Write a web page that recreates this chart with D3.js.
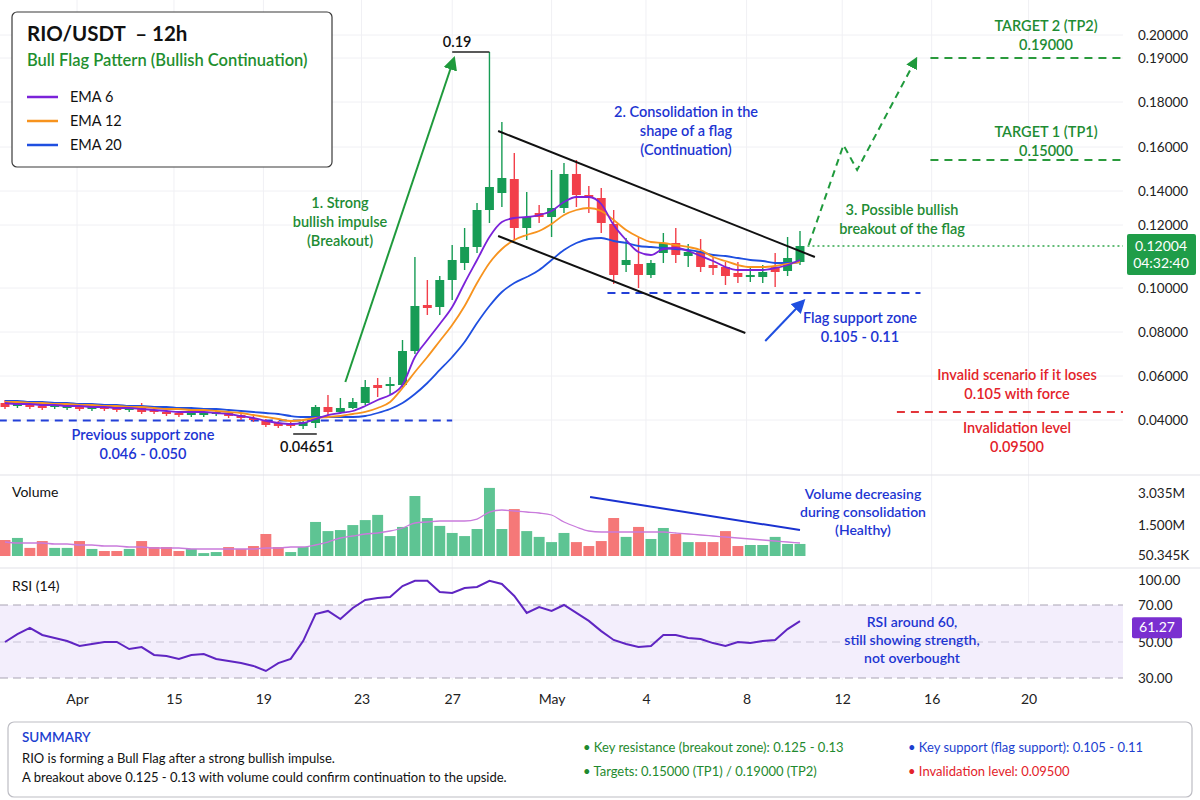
<!DOCTYPE html>
<html>
<head>
<meta charset="utf-8">
<script src="https://cdn.jsdelivr.net/npm/d3@7"></script>
<style>
  html, body { margin: 0; padding: 0; background: #fff; }
  svg { display: block; font-family: Lato, "Open Sans", sans-serif; }
</style>
</head>
<body>
<div id="chart"></div>
<script>
// ---- data (one entry per 12h candle) ----
const opens = [0.04773,0.04636,0.04682,0.04636,0.04591,0.04545,0.04591,0.045,0.04591,0.04545,
  0.04455,0.04591,0.04455,0.04364,0.04318,0.04227,0.04227,0.04273,0.04318,0.04227,
  0.04091,0.03955,0.03864,0.03864,0.03727,0.03864,0.04591,0.04364,0.04545,0.04773,
  0.05591,0.05545,0.05591,0.07136,0.09227,0.09136,0.10254,0.10794,0.11302,0.12882,
  0.13882,0.14545,0.11905,0.12706,0.12471,0.13,0.14773,0.13765,0.13588,0.12059,
  0.1073,0.10762,0.10413,0.11111,0.11429,0.11016,0.11143,0.1073,0.10667,0.10476,
  0.10349,0.10349,0.10667,0.1054,0.10825]
const closes = [0.04591,0.04727,0.04591,0.04545,0.04682,0.04636,0.045,0.04636,0.045,0.04455,
  0.04545,0.04364,0.04364,0.04273,0.04227,0.04318,0.04364,0.04364,0.04182,0.04091,
  0.04,0.03773,0.03727,0.03727,0.03909,0.04591,0.04364,0.04545,0.04818,0.055,
  0.05455,0.05636,0.07136,0.09182,0.09091,0.10254,0.10889,0.11302,0.12882,0.14182,
  0.14591,0.11905,0.12471,0.12471,0.13,0.14773,0.13765,0.13588,0.12118,0.10413,
  0.10889,0.10413,0.10794,0.11429,0.11048,0.11143,0.10667,0.10635,0.10381,0.10349,
  0.10413,0.10508,0.10508,0.10952,0.11333]
const highs = [0.04909,0.04818,0.04773,0.04727,0.04773,0.04727,0.04682,0.04727,0.04682,0.04636,
  0.04636,0.04773,0.04545,0.04455,0.04409,0.04409,0.04455,0.04455,0.04409,0.04318,
  0.04182,0.04045,0.03955,0.03955,0.04,0.04682,0.05136,0.05,0.05,0.05818,
  0.05909,0.05955,0.07636,0.10984,0.10254,0.10381,0.11365,0.11905,0.13294,0.19261,
  0.17111,0.15727,0.13941,0.13176,0.14955,0.15273,0.15409,0.14227,0.14136,0.12882,
  0.11587,0.11619,0.10889,0.11746,0.11905,0.11397,0.11556,0.10984,0.10825,0.10825,
  0.10635,0.1073,0.11111,0.11619,0.1181]
const lows = [0.045,0.04545,0.045,0.04455,0.045,0.04455,0.04409,0.04409,0.04409,0.04364,
  0.04364,0.04273,0.04273,0.04182,0.04136,0.04136,0.04136,0.04182,0.04091,0.04,
  0.03909,0.03682,0.03636,0.03636,0.03591,0.03636,0.04227,0.04318,0.045,0.04682,
  0.05045,0.05136,0.055,0.07,0.08773,0.08773,0.09455,0.10571,0.11111,0.12118,
  0.13059,0.11524,0.11524,0.12118,0.11619,0.12706,0.13059,0.12706,0.11746,0.10127,
  0.10508,0.1,0.10317,0.10794,0.10794,0.10667,0.10508,0.10413,0.10095,0.10159,
  0.1019,0.10159,0.10032,0.10381,0.1073]

const ema6 = [0.04773,0.04727,0.04727,0.04682,0.04682,0.04636,0.04636,0.04591,0.04591,0.04545,
  0.04545,0.045,0.04455,0.04409,0.04364,0.04364,0.04364,0.04318,0.04273,0.04182,
  0.04091,0.03955,0.03864,0.03818,0.03864,0.04045,0.04227,0.04318,0.04409,0.04636,
  0.04909,0.05136,0.05591,0.06864,0.07636,0.08364,0.09136,0.10159,0.10889,0.11619,
  0.12176,0.12412,0.12471,0.12588,0.12824,0.13353,0.13647,0.13647,0.13235,0.12,
  0.11524,0.11143,0.11048,0.11238,0.1127,0.11175,0.11016,0.10857,0.10667,0.10571,
  0.10571,0.10571,0.10635,0.1073,0.10889]
const ema12 = [0.04818,0.04818,0.04773,0.04773,0.04727,0.04727,0.04682,0.04682,0.04636,0.04636,
  0.04591,0.04591,0.04545,0.045,0.045,0.04455,0.04455,0.04409,0.04364,0.04318,
  0.04227,0.04136,0.04045,0.03955,0.04,0.04091,0.04136,0.04182,0.04273,0.04364,
  0.04545,0.04818,0.05455,0.06182,0.06864,0.07591,0.08318,0.09182,0.10159,0.10794,
  0.11238,0.11524,0.11683,0.1181,0.12059,0.12588,0.12882,0.13,0.12824,0.12294,
  0.11841,0.11619,0.1146,0.11429,0.11365,0.11302,0.11206,0.10984,0.10857,0.1073,
  0.10667,0.10667,0.10698,0.10762,0.10825]
const ema20 = [0.04864,0.04864,0.04818,0.04818,0.04773,0.04773,0.04727,0.04727,0.04682,0.04682,
  0.04636,0.04636,0.04591,0.04591,0.04545,0.04545,0.045,0.045,0.04455,0.04409,
  0.04364,0.04318,0.04273,0.04182,0.04136,0.04136,0.04136,0.04136,0.04136,0.04182,
  0.04318,0.045,0.04773,0.05182,0.05682,0.06273,0.06864,0.07545,0.08409,0.09182,
  0.09818,0.10159,0.10349,0.10571,0.10889,0.11206,0.11429,0.11556,0.11587,0.11492,
  0.11429,0.11333,0.11302,0.1127,0.11238,0.11206,0.11143,0.11048,0.11016,0.10952,
  0.10889,0.10857,0.10794,0.10794,0.10825]

// volume in millions
const volumes = [0.77,0.87,0.39,0.72,0.39,0.39,0.72,0.34,0.24,0.24,
  0.34,0.72,0.43,0.43,0.24,0.34,0.14,0.19,0.43,0.34,
  0.48,1.06,0.43,0.19,0.43,1.64,1.2,1.25,1.49,1.73,
  1.98,0.96,1.4,2.89,1.83,1.45,1.11,0.96,1.3,3.28,
  1.3,2.26,1.2,0.92,0.67,1.11,0.67,0.48,0.72,1.83,
  0.92,1.4,0.82,1.35,1.06,0.67,0.67,0.67,1.2,0.48,
  0.53,0.53,0.92,0.58,0.58]
const volUp = [0,1,0,0,1,1,0,1,0,0, 1,0,0,0,0,1,1,1,0,0, 0,0,0,1,1,1,1,1,1,1,
  1,1,1,1,1,1,1,1,1,1, 1,0,1,1,1,1,0,0,0,0, 1,0,1,1,0,1,0,0,0,0, 1,1,1,1,1]
const volMA = [0.674,0.626,0.626,0.626,0.578,0.578,0.53,0.53,0.482,0.482,
  0.434,0.434,0.385,0.385,0.385,0.337,0.337,0.337,0.337,0.337,
  0.337,0.385,0.385,0.434,0.434,0.53,0.674,0.867,0.963,1.06,
  1.108,1.204,1.349,1.59,1.638,1.686,1.686,1.686,1.782,2.119,
  2.216,2.168,2.119,2.071,1.975,1.638,1.397,1.204,1.156,1.156,
  1.156,1.156,1.156,1.156,1.108,1.06,1.012,0.963,0.915,0.867,
  0.819,0.771,0.723,0.674,0.626]

const rsi = [50,54.3,57.6,53.8,52.2,50.5,47.8,48.9,50,50,
  46.1,47.2,42.8,42.2,40.6,42.8,43.3,40.6,39.4,38.3,
  36.7,33.9,38.3,40.6,50.5,65.1,66.8,62.4,68.4,76,
  78.4,79.6,92.8,99,99,85.6,84.4,90.4,91.6,99,
  95.2,80.8,65.7,68.9,66.8,70,65.7,61.4,55.9,51.1,
  48.9,47.2,47.8,53.8,53.8,52.2,51.6,49.4,47.8,50,
  49.4,50.5,51.1,57,61.27]

// axis ticks
const xTickPos = [5.8, 13.6, 20.8, 28.7, 36.0, 44.0, 51.6, 59.7, 67.4, 74.6, 82.4]
const xTickLabels = ["Apr", "15", "19", "23", "27", "May", "4", "8", "12", "16", "20"]
const priceTicks = [0.04, 0.06, 0.08, 0.10, 0.12, 0.14, 0.16, 0.18, 0.19, 0.20]
const volTicks = [0.050345, 1.5, 3.035]
const rsiTicks = [30, 50, 70, 100]

// annotation geometry, in (candle index, price) units
const flagUpper = [[39.7, 0.16711], [65.2, 0.10984]]
const flagLower = [[39.7, 0.11651], [59.6, 0.07955]]
const impulseArrow = [[27.4, 0.05727], [36.1, 0.18955]]
const breakoutPath = [[64.7, 0.11365], [67.5, 0.16089], [68.6, 0.14955], [73.3, 0.18955]]
const supportArrow = [[61.2, 0.07591], [64.2, 0.09364]]
const prevSupport = { from: -0.5, to: 36.0, value: 0.03977 }
const flagSupport = { from: 48.5, to: 73.7, value: 0.09773 }
const tp1 = { from: 74.5, to: 90, value: 0.15409 }
const tp2 = { from: 74.5, to: 90, value: 0.19 }
const invalid = { from: 71.8, to: 90, value: 0.04364 }
const lowMark = { from: 23.2, to: 25.1, value: 0.03364 }
const highMark = { from: 36.0, to: 39, value: 0.19261 }
const volTrend = [[47.1, 2.84], [64.0, 1.25]]

// ---- chart ----
const W = 1200, H = 800
const upC = "#179c55", downC = "#f23f4a"
const volUpC = "#5ec493", volDownC = "#f57878"
const green = "#1e8c34", blue = "#1d35d2", red = "#e3232a"

const x = d3.scaleLinear().domain([0, 64]).range([5, 800])
const xEnd = x(90)
// the picture's price axis is not evenly spaced, so the scale follows its tick marks
const y = d3.scaleLinear()
  .domain(priceTicks)
  .range([420, 376, 332, 288, 225, 191, 147, 102, 58, 35])
const yVol = d3.scaleLinear().domain([0, 3.035]).range([556, 493])
const yRsi = d3.scaleLinear().domain(rsiTicks).range([678, 642, 605, 580])

const svg = d3.select("#chart").append("svg")
  .attr("width", W).attr("height", H)
  .attr("viewBox", [0, 0, W, H])

svg.append("rect").attr("width", W).attr("height", H).attr("fill", "#fff")

const defs = svg.append("defs")
function marker(id, color, size) {
  defs.append("marker")
    .attr("id", id)
    .attr("viewBox", "0 0 10 10")
    .attr("refX", 7).attr("refY", 5)
    .attr("markerWidth", size).attr("markerHeight", size)
    .attr("orient", "auto")
    .append("path").attr("d", "M0,0 L10,5 L0,10 z").attr("fill", color)
}
marker("arrGreen", "#1f9a3c", 7)
marker("arrGreenDash", "#1f9a3c", 6)
marker("arrBlue", "#1f4fe0", 7)

// grid
const grid = svg.append("g").attr("stroke", "#f0f0f4").attr("stroke-width", 1)
grid.selectAll("line.v").data(xTickPos).join("line")
  .attr("x1", d => x(d)).attr("x2", d => x(d))
  .attr("y1", 0).attr("y2", 680)
grid.selectAll("line.h").data(priceTicks).join("line")
  .attr("x1", 0).attr("x2", xEnd)
  .attr("y1", d => y(d)).attr("y2", d => y(d))

// pane separators
svg.append("g").attr("stroke", "#e2e2e8").attr("stroke-width", 1.2)
  .selectAll("line").data([475, 568]).join("line")
  .attr("x1", 0).attr("x2", W).attr("y1", d => d).attr("y2", d => d)

// ---- main pane ----
const candles = d3.range(opens.length).map(i => ({ i, o: opens[i], h: highs[i], l: lows[i], c: closes[i] }))
const step = x(1) - x(0)
const bodyW = step * 0.72

function hline(g, lvl, color, dash, width) {
  g.append("line")
    .attr("x1", x(lvl.from)).attr("x2", x(lvl.to))
    .attr("y1", y(lvl.value)).attr("y2", y(lvl.value))
    .attr("stroke", color).attr("stroke-width", width || 2)
    .attr("stroke-dasharray", dash)
}

const ann = svg.append("g")
hline(ann, prevSupport, "#2340d8", "8,6")
hline(ann, flagSupport, "#2340d8", "8,6")
hline(ann, tp1, "#2a9a3c", "8,6")
hline(ann, tp2, "#2a9a3c", "8,6")
hline(ann, invalid, "#e3353a", "8,6")

const lastPrice = closes[closes.length - 1]
ann.append("line")
  .attr("x1", x(64.6)).attr("x2", xEnd)
  .attr("y1", y(lastPrice)).attr("y2", y(lastPrice))
  .attr("stroke", "#2fa64a").attr("stroke-width", 1.5)
  .attr("stroke-dasharray", "2,3")

// candles
const cg = svg.append("g")
cg.selectAll("line").data(candles).join("line")
  .attr("x1", d => x(d.i)).attr("x2", d => x(d.i))
  .attr("y1", d => y(d.h)).attr("y2", d => y(d.l))
  .attr("stroke", d => d.c >= d.o ? upC : downC)
  .attr("stroke-width", 1.4)
cg.selectAll("rect").data(candles).join("rect")
  .attr("x", d => x(d.i) - bodyW / 2)
  .attr("width", bodyW)
  .attr("y", d => Math.min(y(d.o), y(d.c)))
  .attr("height", d => Math.max(1.6, Math.abs(y(d.o) - y(d.c))))
  .attr("fill", d => d.c >= d.o ? upC : downC)

// EMAs
const emaLine = d3.line().x((d, i) => x(i)).y(d => y(d)).curve(d3.curveMonotoneX)
const emas = [
  { values: ema20, color: "#1f4fe0", name: "EMA 20" },
  { values: ema12, color: "#f7931e", name: "EMA 12" },
  { values: ema6, color: "#7b22d9", name: "EMA 6" }
]
svg.append("g").attr("fill", "none").attr("stroke-width", 1.8)
  .selectAll("path").data(emas).join("path")
  .attr("stroke", d => d.color)
  .attr("d", d => emaLine(d.values))

// flag channel
const seg = d3.line().x(d => x(d[0])).y(d => y(d[1]))
svg.append("g").attr("stroke", "#111").attr("stroke-width", 2).attr("fill", "none")
  .selectAll("path").data([flagUpper, flagLower]).join("path")
  .attr("d", seg)

// arrows
svg.append("path").attr("d", seg(impulseArrow))
  .attr("stroke", "#1f9a3c").attr("stroke-width", 2).attr("fill", "none")
  .attr("marker-end", "url(#arrGreen)")
svg.append("path").attr("d", seg(breakoutPath))
  .attr("stroke", "#1f9a3c").attr("stroke-width", 2).attr("fill", "none")
  .attr("stroke-dasharray", "7,5")
  .attr("marker-end", "url(#arrGreenDash)")
svg.append("path").attr("d", seg(supportArrow))
  .attr("stroke", "#1f4fe0").attr("stroke-width", 2).attr("fill", "none")
  .attr("marker-end", "url(#arrBlue)")

// high / low marks
hline(svg, highMark, "#222", null, 1.5)
hline(svg, lowMark, "#222", null, 1.5)

function text(lines, tx, ty, lh, color, size, weight, anchor) {
  svg.append("text")
    .attr("x", tx).attr("y", ty)
    .attr("fill", color)
    .attr("font-size", size)
    .attr("font-weight", weight || 600)
    .attr("text-anchor", anchor || "middle")
    .style("white-space", "pre")
    .selectAll("tspan").data(lines).join("tspan")
    .attr("x", tx).attr("dy", (d, i) => i ? lh : 0)
    .text(d => d)
}

text(["0.19"], x(highMark.from) + 5, y(highMark.value) - 5, 0, "#111", 14.5, 600)
text(["0.04651"], (x(lowMark.from) + x(lowMark.to)) / 2 + 2, y(lowMark.value) + 18, 0, "#111", 14.5, 600)
text(["1. Strong", "bullish impulse", "(Breakout)"], 340, 208, 19, green, 14.5)
text(["2. Consolidation in the", "shape of a flag", "(Continuation)"], 686, 117, 19, blue, 14.5)
text(["3. Possible bullish", "breakout of the flag"], 902, 215, 19, green, 14.5)
text(["Previous support zone", "0.046 - 0.050"], 143, 440, 19, blue, 14.5)
text(["Flag support zone", "0.105 - 0.11"], 860, 323, 19, blue, 14.5)
text(["TARGET 2 (TP2)", "0.19000"], 1046, 31, 19, green, 14.5)
text(["TARGET 1 (TP1)", "0.15000"], 1046, 137, 19, green, 14.5)
text(["Invalid scenario if it loses", "0.105 with force"], 1017, 380, 19, red, 14.5)
text(["Invalidation level", "0.09500"], 1017, 433, 19, red, 14.5)

// legend box
const lg = svg.append("g")
lg.append("rect").attr("x", 12).attr("y", 12).attr("width", 320).attr("height", 155)
  .attr("rx", 5).attr("fill", "#fff").attr("stroke", "#3a3a3a").attr("stroke-width", 1.2)
text(["RIO/USDT  – 12h"], 27, 41, 0, "#111", 20.5, 700, "start")
text(["Bull Flag Pattern (Bullish Continuation)"], 27, 66, 0, "#1f8f2f", 16.5, 600, "start")
const legendItems = emas.slice().reverse()
lg.selectAll("line.k").data(legendItems).join("line")
  .attr("x1", 27).attr("x2", 58)
  .attr("y1", (d, i) => 97 + i * 24).attr("y2", (d, i) => 97 + i * 24)
  .attr("stroke", d => d.color).attr("stroke-width", 2.5)
lg.selectAll("text.k").data(legendItems).join("text")
  .attr("x", 70).attr("y", (d, i) => 102 + i * 24)
  .attr("font-size", 14.5).attr("fill", "#111")
  .text(d => d.name)

// price axis
const pAxis = svg.append("g").attr("transform", `translate(1130,0)`)
  .call(d3.axisRight(y).tickValues(priceTicks).tickFormat(d3.format(".5f")).tickSize(0).tickPadding(8))
pAxis.select(".domain").remove()
pAxis.selectAll("text").attr("font-size", 13.5).attr("fill", "#222").attr("font-family", "Lato, sans-serif")

// current price tag
const py = y(lastPrice)
svg.append("rect").attr("x", 1127).attr("y", py - 12).attr("width", 69).attr("height", 41)
  .attr("rx", 2).attr("fill", "#1f9d49")
text(["0.12004", "04:32:40"], 1161, py + 5, 17, "#fff", 14, 400)

// ---- volume pane ----
const volW = step * 0.88
svg.append("g").selectAll("rect").data(volumes).join("rect")
  .attr("x", (d, i) => x(i) - volW / 2)
  .attr("width", volW)
  .attr("y", d => yVol(d))
  .attr("height", d => yVol(0) - yVol(d))
  .attr("fill", (d, i) => volUp[i] ? volUpC : volDownC)

svg.append("path")
  .attr("d", d3.line().x((d, i) => x(i)).y(d => yVol(d)).curve(d3.curveMonotoneX)(volMA))
  .attr("fill", "none").attr("stroke", "#c97bdc").attr("stroke-width", 1.3)

svg.append("path")
  .attr("d", d3.line().x(d => x(d[0])).y(d => yVol(d[1]))(volTrend))
  .attr("fill", "none").attr("stroke", "#1a32d0").attr("stroke-width", 2)

const vAxis = svg.append("g").attr("transform", `translate(1130,0)`)
  .call(d3.axisRight(yVol).tickValues(volTicks)
    .tickFormat(d => d >= 1 ? d.toFixed(3) + "M" : (d * 1000).toFixed(3) + "K")
    .tickSize(0).tickPadding(8))
vAxis.select(".domain").remove()
vAxis.selectAll("text").attr("font-size", 13.5).attr("fill", "#222").attr("font-family", "Lato, sans-serif")

text(["Volume"], 12, 497, 0, "#111", 14, 400, "start")
text(["Volume decreasing", "during consolidation", "(Healthy)"], 863, 499, 18, blue, 14)

// ---- RSI pane ----
svg.append("rect")
  .attr("x", 0).attr("width", xEnd)
  .attr("y", yRsi(70)).attr("height", yRsi(30) - yRsi(70))
  .attr("fill", "#f3eefc")
svg.append("g").selectAll("line").data([70, 50, 30]).join("line")
  .attr("x1", 0).attr("x2", xEnd)
  .attr("y1", d => yRsi(d)).attr("y2", d => yRsi(d))
  .attr("stroke", d => d === 50 ? "#c9c3d6" : "#a9a4b4")
  .attr("stroke-width", 1.2)
  .attr("stroke-dasharray", "8,5")

svg.append("path")
  .attr("d", d3.line().x((d, i) => x(i)).y(d => yRsi(d))(rsi))
  .attr("fill", "none").attr("stroke", "#5f25c2").attr("stroke-width", 2)

const rAxis = svg.append("g").attr("transform", `translate(1130,0)`)
  .call(d3.axisRight(yRsi).tickValues(rsiTicks).tickFormat(d3.format(".2f")).tickSize(0).tickPadding(8))
rAxis.select(".domain").remove()
rAxis.selectAll("text").attr("font-size", 13.5).attr("fill", "#222").attr("font-family", "Lato, sans-serif")

const ry = yRsi(rsi[rsi.length - 1])
svg.append("rect").attr("x", 1132).attr("y", ry - 4).attr("width", 50).attr("height", 21)
  .attr("rx", 2).attr("fill", "#7a2fd0")
text([d3.format(".2f")(rsi[rsi.length - 1])], 1157, ry + 11, 0, "#fff", 14, 400)

text(["RSI (14)"], 12, 591, 0, "#111", 14, 400, "start")
text(["RSI around 60,", "still showing strength,", "not overbought"], 912, 627, 18, blue, 14)

// time axis
const tAxis = svg.append("g").attr("transform", `translate(0,690)`)
  .call(d3.axisBottom(x).tickValues(xTickPos).tickFormat((d, i) => xTickLabels[i]).tickSize(0).tickPadding(4))
tAxis.select(".domain").remove()
tAxis.selectAll("text").attr("font-size", 14).attr("fill", "#222").attr("font-family", "Lato, sans-serif")

// ---- summary box ----
svg.append("rect").attr("x", 8).attr("y", 722).attr("width", 1184).attr("height", 75)
  .attr("rx", 6).attr("fill", "#fff").attr("stroke", "#bdbdc4").attr("stroke-width", 1.2)
text(["SUMMARY"], 22, 742, 0, "#1d3fcf", 13.5, 600, "start")
text(["RIO is forming a Bull Flag after a strong bullish impulse.",
      "A breakout above 0.125 - 0.13 with volume could confirm continuation to the upside."],
     22, 763, 19, "#111", 13, 400, "start")
text(["• Key resistance (breakout zone): 0.125 - 0.13", "• Targets: 0.15000 (TP1) / 0.19000 (TP2)"],
     583, 752, 24, "#1f8a2e", 13, 400, "start")
text(["• Key support (flag support): 0.105 - 0.11"], 908, 752, 0, "#1d3fcf", 13, 400, "start")
text(["• Invalidation level: 0.09500"], 908, 776, 0, red, 13, 400, "start")
</script>
</body>
</html>
